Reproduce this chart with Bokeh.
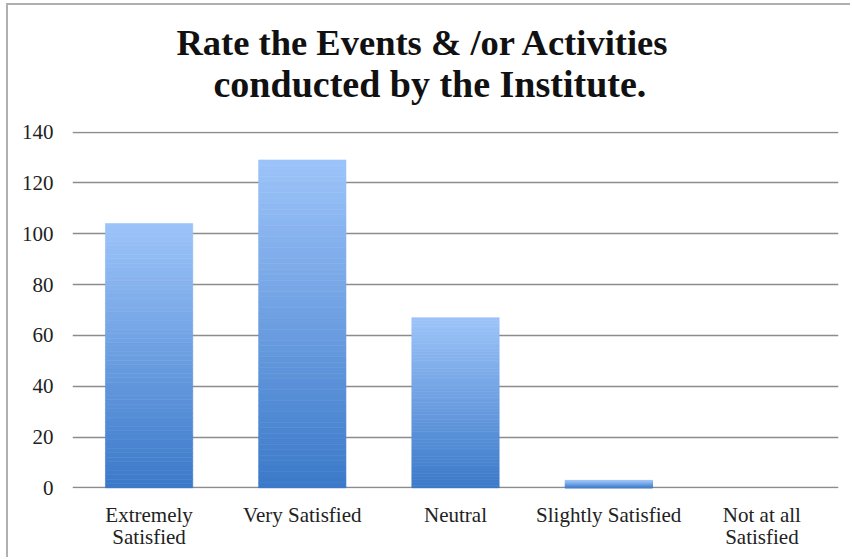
from bokeh.plotting import figure
from bokeh.models import FixedTicker, Title, CategoricalAxis, CustomJSTickFormatter
from bokeh.embed import file_html
from bokeh.resources import INLINE

categories = ["Extremely Satisfied", "Very Satisfied", "Neutral", "Slightly Satisfied", "Not at all Satisfied"]
tick_labels = ["Extremely\nSatisfied", "Very Satisfied", "Neutral", "Slightly Satisfied", "Not at all\nSatisfied"]
values = [104, 129, 67, 3, 0]
y_ticks = [0, 20, 40, 60, 80, 100, 120, 140]
title_lines = ["Rate the Events & /or Activities", "conducted by the Institute."]

FONT = "Liberation Serif"
TOP_RGB = (157, 196, 249)
BOT_RGB = (59, 121, 201)
N_STRIPS = 60

p = figure(x_range=categories, y_range=(-0.2, 140.2), width=844, height=554,
           output_backend="svg", toolbar_location=None,
           min_border_left=64, min_border_right=14, min_border_top=126, min_border_bottom=71)
p.title = None
p.add_layout(Title(text=title_lines[1], text_font=FONT, text_font_size="38px",
                   text_font_style="bold", align="left", offset=141, text_color="#111111",
                   standoff=54), "above")
p.add_layout(Title(text=title_lines[0], text_font=FONT, text_font_size="36.5px",
                   text_font_style="bold", align="left", offset=104, text_color="#111111",
                   standoff=-58), "above")

# gradient bars: each bar split into thin strips, light at top, dark at bottom
xs, bottoms, tops, colors = [], [], [], []
for c, v in zip(categories, values):
    if v <= 0:
        continue
    for i in range(N_STRIPS):
        t = (i + 0.5) / N_STRIPS
        rgb = tuple(int(round(b + (a - b) * t)) for a, b in zip(TOP_RGB, BOT_RGB))
        xs.append(c)
        bottoms.append(v * i / N_STRIPS)
        tops.append(v * (i + 1) / N_STRIPS)
        colors.append("#%02x%02x%02x" % rgb)
p.vbar(x=xs, bottom=bottoms, top=tops, width=0.57, fill_color=colors,
       line_color=colors, line_width=0.6)

# two-line category labels: first line on the main axis, second line on an extra axis
first_lines = [t.split("\n")[0] for t in tick_labels]
second_lines = [t.split("\n")[1] if "\n" in t else "" for t in tick_labels]
ax2 = CategoricalAxis()
p.add_layout(ax2, "below")

p.outline_line_color = None
p.background_fill_color = "white"
p.border_fill_color = "white"
p.xgrid.grid_line_color = None
p.ygrid.grid_line_color = "#8c8c8c"
p.ygrid.grid_line_width = 1.5
p.yaxis.ticker = FixedTicker(ticks=y_ticks)
p.yaxis.axis_line_color = None
p.yaxis.major_tick_line_color = None
p.yaxis.minor_tick_line_color = None
p.yaxis.major_label_standoff = 13
p.yaxis.major_label_text_font = FONT
p.yaxis.major_label_text_font_size = "21px"
p.yaxis.major_label_text_color = "#222222"
for ax, lines, st in ((p.xaxis[0], first_lines, 14), (ax2, second_lines, -5)):
    ax.axis_line_color = None
    ax.major_tick_line_color = None
    ax.major_tick_in = 0
    ax.major_tick_out = 0
    ax.major_label_standoff = st
    ax.major_label_text_font = FONT
    ax.major_label_text_font_size = "21px"
    ax.major_label_text_color = "#222222"
    ax.formatter = CustomJSTickFormatter(args=dict(cats=categories, labs=lines),
                                         code="const i = cats.indexOf(tick); return i < 0 ? tick : labs[i];")
p.styles = {"border-top": "2px solid #b0b0b0", "border-left": "2px solid #b0b0b0",
            "margin-left": "6px", "margin-top": "3px"}

open("out.html", "w").write(file_html(p, INLINE))
